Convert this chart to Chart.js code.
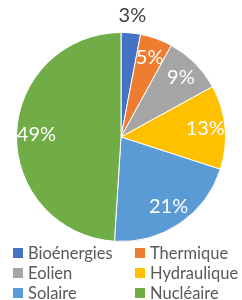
<!DOCTYPE html>
<html lang="fr">
<head>
  <meta charset="UTF-8">
  <title>Mix énergétique</title>
  <script src="https://cdn.jsdelivr.net/npm/chart.js"></script>
  <style>
    html, body { margin: 0; padding: 0; background: #fff; }
    .wrap { position: relative; width: 242px; height: 300px; overflow: hidden; }
    #pie { position: absolute; left: 0; top: 0; }
    .legend {
      position: absolute; left: 13px; top: 243px; width: 229px;
      display: grid; grid-template-columns: 122px 107px; grid-auto-rows: 20px;
      font-family: Lato, sans-serif; font-size: 16.5px; color: #595959;
    }
    .legend div { display: flex; align-items: center; white-space: nowrap; }
    .legend span { display: inline-block; width: 10px; height: 10px; margin-right: 5px; }
  </style>
</head>
<body>
  <div class="wrap">
    <canvas id="pie" width="242" height="244"></canvas>
    <div class="legend" id="legend"></div>
  </div>

  <script>
  // données
  const categories = ['Bioénergies', 'Thermique', 'Eolien', 'Hydraulique', 'Solaire', 'Nucléaire'];
  const shares = [3, 5, 9, 13, 21, 49];
  const colors = ['#4472C4', '#ED7D31', '#A5A5A5', '#FFC000', '#5B9BD5', '#70AD47'];

  // légende HTML (2 colonnes)
  document.getElementById('legend').innerHTML = categories
    .map((c, i) => `<div><span style="background:${colors[i]}"></span>${c}</div>`).join('');

  // étiquettes de pourcentage
  const pctLabels = {
    id: 'pctLabels',
    afterDatasetsDraw(chart) {
      const ctx = chart.ctx;
      const meta = chart.getDatasetMeta(0);
      ctx.save();
      ctx.font = '20px Lato, sans-serif';
      ctx.textAlign = 'center';
      ctx.textBaseline = 'middle';
      meta.data.forEach((arc, i) => {
        const p = arc.getProps(['x', 'y', 'startAngle', 'endAngle', 'outerRadius']);
        const mid = (p.startAngle + p.endAngle) / 2;
        const small = shares[i] < 4;
        const r = small ? p.outerRadius + 17 : p.outerRadius * 0.81;
        ctx.fillStyle = small ? '#404040' : '#fff';
        ctx.fillText(shares[i] + '%', p.x + Math.cos(mid) * r, p.y + Math.sin(mid) * r);
      });
      ctx.restore();
    }
  };

  new Chart(document.getElementById('pie'), {
    type: 'pie',
    data: {
      labels: categories,
      datasets: [{ data: shares, backgroundColor: colors, borderColor: '#fff', borderWidth: 1 }]
    },
    options: {
      responsive: false,
      animation: false,
      layout: { padding: { top: 32, bottom: 2, left: 16, right: 16 } },
      plugins: { legend: { display: false }, tooltip: { enabled: false } }
    },
    plugins: [pctLabels]
  });
  </script>
</body>
</html>
